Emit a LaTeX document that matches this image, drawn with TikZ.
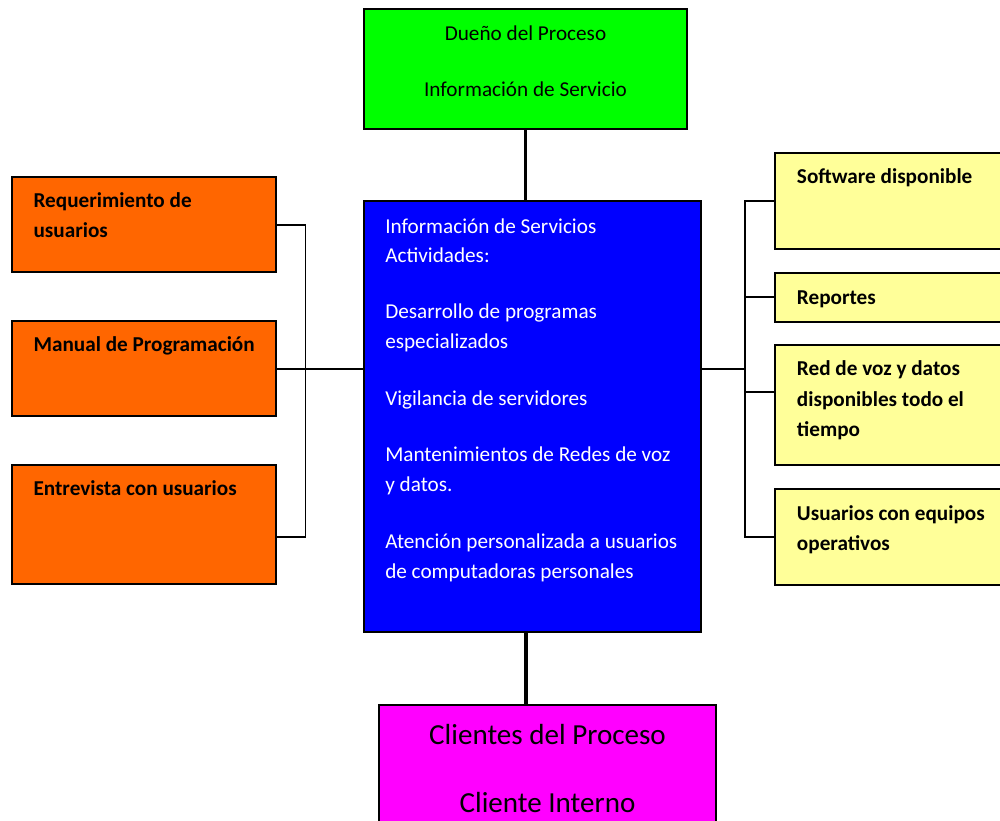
\documentclass[tikz,border=0pt]{standalone}
\usepackage{fontspec}
\setmainfont{Carlito}
\newcommand\upx{0.75pt}
\definecolor{ownergreen}{HTML}{00FF00}
\definecolor{actblue}{HTML}{0000FF}
\definecolor{inorange}{HTML}{FF6600}
\definecolor{outyellow}{HTML}{FFFF99}
\definecolor{clientmag}{HTML}{FF00FF}
\begin{document}
\begin{tikzpicture}[x=0.75pt,y=-0.75pt,
  box/.style={draw=black, line width=1.5pt, inner sep=0pt, outer sep=0pt, anchor=north west},
  txt/.style={inner sep=0pt, anchor=base west, font=\fontsize{15.9}{19}\selectfont},
  ctxt/.style={txt, anchor=base},
  btxt/.style={txt, font=\fontsize{15.9}{19}\selectfont\bfseries},
  bigtxt/.style={inner sep=0pt, anchor=base, font=\fontsize{21.8}{26}\selectfont},
  thinline/.style={line width=1.1pt},
  thickline/.style={line width=2.6pt}]
\useasboundingbox (0,0) rectangle (1000,821);
\clip (0,0) rectangle (1000,821);

% process owner
\node[box, fill=ownergreen, minimum width=323*\upx, minimum height=120*\upx] (owner) at (364,9) {};
\node[ctxt] (owner1) at (525.5,40) {Dueño del Proceso};
\node[ctxt] (owner2) at (525.5,96.7) {Información de Servicio};

% activities
\node[box, fill=actblue, minimum width=337*\upx, minimum height=431*\upx] (act) at (364,201) {};
\foreach \t/\yy [count=\i] in {Información de Servicios/233, Actividades:/262,
    Desarrollo de programas/318.3, especializados/348.3, Vigilancia de servidores/405,
    Mantenimientos de Redes de voz/461.7, y datos./491.7,
    Atención personalizada a usuarios/548.3, de computadoras personales/578.3}
  \node[txt, text=white] (act\i) at (385,\yy) {\t};

% inputs
\node[box, fill=inorange, minimum width=264*\upx, minimum height=95*\upx] (in1) at (12,177) {};
\node[box, fill=inorange, minimum width=264*\upx, minimum height=95*\upx] (in2) at (12,321) {};
\node[box, fill=inorange, minimum width=264*\upx, minimum height=119*\upx] (in3) at (12,465) {};
\node[btxt] (in1a) at (33.3,207.3) {Requerimiento de};
\node[btxt] (in1b) at (33.3,237.7) {usuarios};
\node[btxt] (in2a) at (33.3,351) {Manual de Programación};
\node[btxt] (in3a) at (33.3,495) {Entrevista con usuarios};

% outputs
\node[box, fill=outyellow, minimum width=245*\upx, minimum height=96*\upx] (out1) at (775,153) {};
\node[box, fill=outyellow, minimum width=245*\upx, minimum height=49*\upx] (out2) at (775,273) {};
\node[box, fill=outyellow, minimum width=245*\upx, minimum height=120*\upx] (out3) at (775,345) {};
\node[box, fill=outyellow, minimum width=245*\upx, minimum height=96*\upx] (out4) at (775,489) {};
\node[btxt] (out1a) at (796.7,183.3) {Software disponible};
\node[btxt] (out2a) at (796.7,304) {Reportes};
\node[btxt] (out3a) at (796.7,375.7) {Red de voz y datos};
\node[btxt] (out3b) at (796.7,406.7) {disponibles todo el};
\node[btxt] (out3c) at (796.7,436.7) {tiempo};
\node[btxt] (out4a) at (796.7,520) {Usuarios con equipos};
\node[btxt] (out4b) at (796.7,550) {operativos};

% clients
\node[box, fill=clientmag, minimum width=337*\upx, minimum height=135*\upx] (cli) at (379,705) {};
\node[bigtxt] (cli1) at (547.5,744) {Clientes del Proceso};
\node[bigtxt] (cli2) at (547.5,812) {Cliente Interno};

% vertical spine
\coordinate (spineTop) at (525.5,129);
\coordinate (spineBot) at (526,633);
\draw[thickline] (owner.south -| spineTop) -- (act.north -| spineTop);
\draw[thickline] (act.south -| spineBot) -- (cli.north -| spineBot);

% input bus
\coordinate (lbTop) at (305.5,225);
\coordinate (lbBot) at (305.5,537);
\coordinate (lbMid) at (305.5,369);
\draw[thinline] (in1.east |- lbTop) -- (lbTop) -- (lbBot) -- (in3.east |- lbBot);
\draw[thinline] (in2.east |- lbMid) -- (act.west |- lbMid);

% output bus
\coordinate (rbTop) at (745,201);
\coordinate (rbBot) at (745,537);
\coordinate (rbRep) at (745,297);
\coordinate (rbRed) at (745,392);
\coordinate (rbAct) at (745,369);
\draw[thinline] (out1.west |- rbTop) -- (rbTop) -- (rbBot) -- (out4.west |- rbBot);
\draw[thinline] (rbRep) -- (out2.west |- rbRep);
\draw[thinline] (rbRed) -- (out3.west |- rbRed);
\draw[thinline] (act.east |- rbAct) -- (rbAct);
\end{tikzpicture}
\end{document}
